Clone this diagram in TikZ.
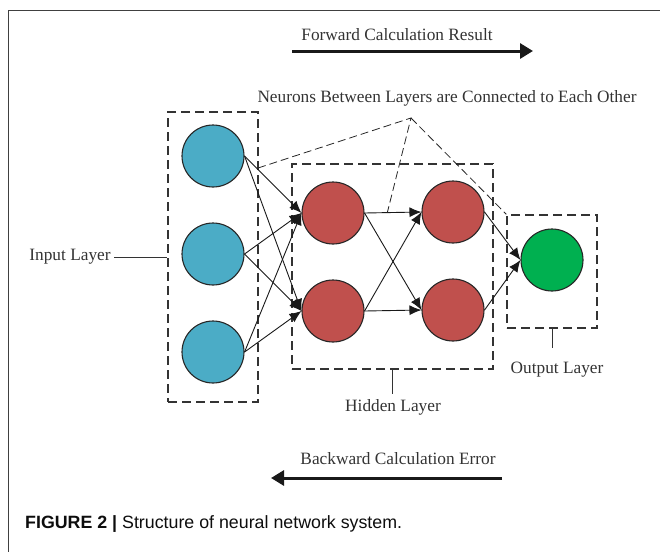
\documentclass[tikz,border=0pt]{standalone}
\usepackage{fontspec}
\setmainfont{Liberation Serif}
\newfontfamily\capfont{Liberation Sans}
\usetikzlibrary{arrows.meta,calc}

\definecolor{inblue}{RGB}{75,172,198}
\definecolor{hidred}{RGB}{192,80,77}
\definecolor{outgreen}{RGB}{0,176,80}

\begin{document}
\begin{tikzpicture}[x=1pt,y=-1pt,
    neuron/.style={circle,draw=black!85,line width=1.1pt,minimum size=62pt,inner sep=0pt},
    layerbox/.style={draw=black!80,line width=1.4pt,dash pattern=on 9pt off 5pt,inner sep=0pt},
    link/.style={draw=black!90,line width=0.9pt,-{Latex[length=12pt,width=10pt]}},
    hint/.style={draw=black!85,line width=0.8pt,dash pattern=on 8pt off 4pt},
    label/.style={font=\fontsize{17.3}{20}\selectfont,text=black!80},
    bigarrow/.style={draw=black!90,line width=3pt,-{Triangle[length=13pt,width=15pt]}}]
    \useasboundingbox (0,0) rectangle (660,552);

    % Frame
    \draw[black!75,line width=1pt] (660,10) -- (8,10) -- (8,552);

    %% Input layer
    \node[neuron,fill=inblue] (i1) at (213,156) {};
    \node[neuron,fill=inblue] (i2) at (213,254) {};
    \node[neuron,fill=inblue] (i3) at (213,352) {};
    \node[layerbox,minimum width=90pt,minimum height=290pt] (inbox) at (213,257) {};

    %% Hidden layer
    \node[neuron,fill=hidred] (h1) at (333,213) {};
    \node[neuron,fill=hidred] (h2) at (333,311) {};
    \node[neuron,fill=hidred] (h3) at (453,212) {};
    \node[neuron,fill=hidred] (h4) at (453,310) {};
    \node[layerbox,minimum width=201pt,minimum height=205pt] (hidbox) at (392.5,266.5) {};

    %% Output layer
    \node[neuron,fill=outgreen] (o1) at (552,260) {};
    \node[layerbox,minimum width=90pt,minimum height=113pt] (outbox) at (552,271.5) {};

    %% Connections
    \foreach \a in {i1,i2,i3}
      \foreach \b in {h1,h2}
        \draw[link] (\a.east) -- (\b.west);
    \foreach \a in {h1,h2}
      \foreach \b in {h3,h4}
        \draw[link] (\a.east) -- (\b.west);
    \foreach \a in {h3,h4}
      \draw[link] (\a.east) -- (o1.west);

    %% Layer labels
    \node[label] (inlab) at (70,257) {Input Layer};
    \draw[black!80,line width=0.8pt] (inlab.east) -- (inbox.west);
    \node[label] (hidlab) at (393,407) {Hidden Layer};
    \coordinate (hidtick) at (392.5,394);
    \draw[black!80,line width=0.8pt] (hidbox.south) -- (hidtick);
    \node[label] (outlab) at (557,370) {Output Layer};
    \coordinate (outtick) at (552,348);
    \draw[black!80,line width=0.8pt] (outbox.south) -- (outtick);

    %% Note on the connections
    \node[label] (note) at (447,98) {Neurons Between Layers are Connected to Each Other};
    \coordinate (apex) at (411,118);
    \coordinate (inhit) at (258,168);
    \coordinate (linkhit) at ($(h1.east)!0.4!(h3.west)$);
    \draw[hint] (inhit) -- (apex) -- (linkhit);
    \draw[hint] (apex) -- (outbox.north west);

    %% Direction arrows
    \node[label] (fwdlab) at (397,35) {Forward Calculation Result};
    \coordinate (fwdA) at (292,51);
    \coordinate (fwdB) at (533,51);
    \draw[bigarrow] (fwdA) -- (fwdB);
    \node[label] (bwdlab) at (398,459) {Backward Calculation Error};
    \coordinate (bwdA) at (502,478);
    \coordinate (bwdB) at (271,478);
    \draw[bigarrow] (bwdA) -- (bwdB);

    %% Caption
    \node[anchor=west,inner sep=0pt,text=black!95,font=\capfont\fontsize{17.8}{20}\selectfont] (cap) at (25,524)
      {\textbf{FIGURE 2 |} Structure of neural network system.};
  \end{tikzpicture}
\end{document}
